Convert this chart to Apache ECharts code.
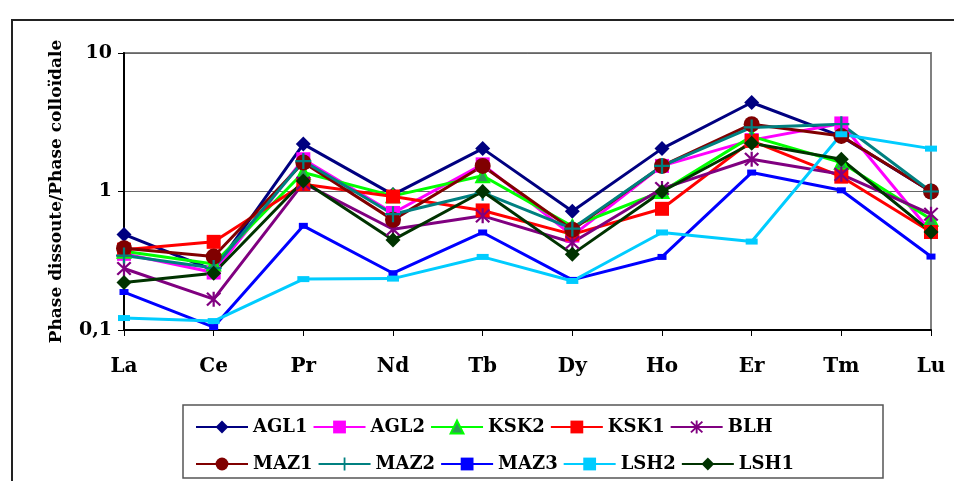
<!DOCTYPE html>
<html><head><meta charset="utf-8">
<script src="https://cdn.jsdelivr.net/npm/echarts@6/dist/echarts.min.js"></script>
<style>html,body{margin:0;padding:0;background:#fff}#c{width:954px;height:481px}</style>
</head><body><div id="c"></div>
<script>
const categories = ['La','Ce','Pr','Nd','Tb','Dy','Ho','Er','Tm','Lu'];
const AGL1 = [0.49, 0.27, 2.2, 0.95, 2.04, 0.72, 2.04, 4.39, 2.5, 1.0];
const AGL2 = [0.355, 0.26, 1.71, 0.70, 1.57, 0.48, 1.53, 2.35, 3.1, 0.51];
const KSK2 = [0.37, 0.30, 1.37, 0.93, 1.30, 0.56, 1.0, 2.5, 1.62, 0.63];
const KSK1 = [0.38, 0.433, 1.13, 0.92, 0.73, 0.49, 0.75, 2.32, 1.28, 0.51];
const BLH  = [0.278, 0.167, 1.15, 0.534, 0.667, 0.428, 1.05, 1.71, 1.33, 0.686];
const MAZ1 = [0.39, 0.339, 1.62, 0.624, 1.53, 0.53, 1.53, 3.06, 2.52, 1.0];
const MAZ2 = [0.345, 0.28, 1.66, 0.686, 0.98, 0.54, 1.53, 2.9, 3.06, 1.0];
const MAZ3 = [0.188, 0.105, 0.565, 0.257, 0.506, 0.23, 0.337, 1.37, 1.02, 0.339];
const LSH2 = [0.122, 0.116, 0.233, 0.235, 0.337, 0.226, 0.506, 0.435, 2.59, 2.04];
const LSH1 = [0.22, 0.257, 1.19, 0.447, 1.0, 0.353, 1.0, 2.23, 1.71, 0.511];
const yTickLabels = {'0.1':'0,1','1':'1','10':'10'};
const yTitle = 'Phase dissoute/Phase colloïdale';

const FONT = "'DejaVu Serif','Liberation Serif',serif";

function bar(x1,y1,x2,y2,w){
  const dx=x2-x1, dy=y2-y1, L=Math.hypot(dx,dy);
  const nx=-dy/L*w/2, ny=dx/L*w/2;
  const p=[[x1+nx,y1+ny],[x2+nx,y2+ny],[x2-nx,y2-ny],[x1-nx,y1-ny]];
  return 'M'+p.map(q=>q[0].toFixed(3)+' '+q[1].toFixed(3)).join(' L')+' Z';
}
const starPath = 'path://'+[bar(50,0,50,100,14),bar(8,8,92,92,14),bar(92,8,8,92,14)].join(' ');
const plusPath = 'path://'+[bar(50,0,50,100,14),bar(0,50,100,50,14)].join(' ');

const defs = [
  ['AGL1', AGL1, '#000080', 'diamond', 15, null],
  ['AGL2', AGL2, '#FF00FF', 'rect', 14, null],
  ['KSK2', KSK2, '#00FF00', 'triangle', 13, {color:'#2f9a55', borderColor:'#00FF00', borderWidth:2}],
  ['KSK1', KSK1, '#FF0000', 'rect', 14, null],
  ['BLH', BLH, '#800080', starPath, 15, null],
  ['MAZ1', MAZ1, '#800000', 'circle', 16, null],
  ['MAZ2', MAZ2, '#008080', plusPath, 16, null],
  ['MAZ3', MAZ3, '#0000FF', 'rect', [9,6], null],
  ['LSH2', LSH2, '#00CCFF', 'rect', [12,6], null],
  ['LSH1', LSH1, '#003300', 'diamond', 15, null]
];

const series = defs.map(d => ({
  name: d[0], type: 'line', data: d[1], symbol: d[3], symbolSize: d[4],
  showAllSymbol: true, animation: false,
  lineStyle: {color: d[2], width: 3},
  itemStyle: Object.assign({color: d[2], borderWidth: 0}, d[5] || {}),
  emphasis: {disabled: true}
}));

const legendCommon = {
  orient: 'horizontal', itemWidth: 52, itemHeight: 16, itemGap: 5,
  textStyle: {fontFamily: FONT, fontWeight: 'bold', fontSize: 18, color: '#000', width: 80},
  selectedMode: false, left: 190
};

const chart = echarts.init(document.getElementById('c'), null, {renderer: 'canvas'});
chart.setOption({
  backgroundColor: '#fff',
  animation: false,
  grid: {left: 124, right: 23, top: 53, bottom: 151, show: true, borderColor: '#808080', borderWidth: 2},
  xAxis: {
    type: 'category', data: categories, boundaryGap: false,
    axisLine: {lineStyle: {color: '#000', width: 2}},
    axisTick: {show: true, length: 6, lineStyle: {color: '#000', width: 1}},
    axisLabel: {fontFamily: FONT, fontWeight: 'bold', fontSize: 20, color: '#000', margin: 27},
    splitLine: {show: false}
  },
  yAxis: {
    type: 'log', logBase: 10, min: 0.1, max: 10,
    name: yTitle, nameLocation: 'middle', nameGap: 59, nameRotate: 90,
    nameTextStyle: {fontFamily: FONT, fontWeight: 'bold', fontSize: 17, color: '#000'},
    axisLine: {show: true, lineStyle: {color: '#000', width: 2}},
    axisTick: {show: true, inside: false, length: 6, lineStyle: {color: '#000'}},
    minorTick: {show: false},
    axisLabel: {fontFamily: FONT, fontWeight: 'bold', fontSize: 19, color: '#000', margin: 12,
      formatter: v => yTickLabels[String(+v.toPrecision(3))] ?? String(v)},
    splitLine: {show: true, lineStyle: {color: '#666', width: 1}}
  },
  legend: [
    Object.assign({}, legendCommon, {data: ['AGL1','AGL2','KSK2','KSK1','BLH'], top: 413}),
    Object.assign({}, legendCommon, {data: ['MAZ1','MAZ2','MAZ3','LSH2','LSH1'], top: 450})
  ],
  graphic: [
    {type: 'rect', shape: {x: 12, y: 20, width: 1200, height: 1000}, style: {fill: 'none', stroke: '#222', lineWidth: 2}, silent: true},
    {type: 'rect', shape: {x: 183, y: 405, width: 700, height: 73}, style: {fill: 'none', stroke: '#555', lineWidth: 1.5}, silent: true}
  ],
  series: series
});
</script></body></html>
